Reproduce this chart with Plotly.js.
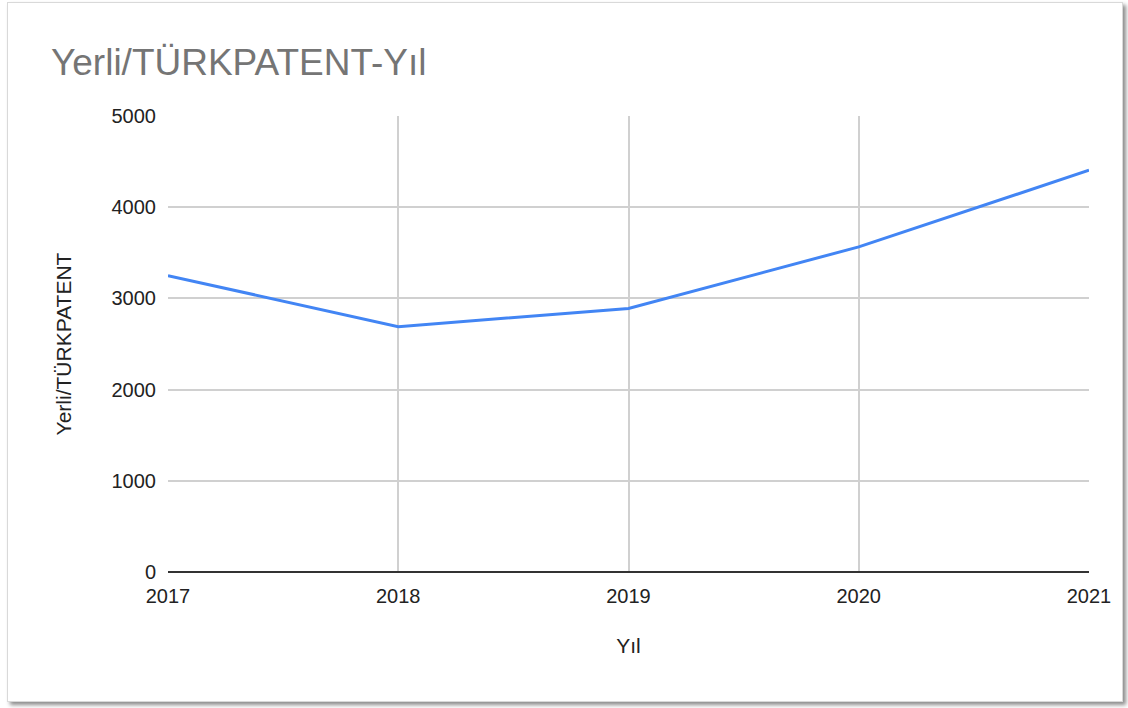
<!DOCTYPE html>
<html>
<head>
<meta charset="utf-8">
<script src="https://cdn.plot.ly/plotly-3.0.1.min.js"></script>
<style>
html,body{margin:0;padding:0;background:#ffffff;width:1128px;height:708px;overflow:hidden;}
#frame{position:absolute;left:7px;top:2px;width:1114px;height:698px;border:1px solid #d9d9d9;box-shadow:3px 3px 4px rgba(0,0,0,0.45);background:#fff;}
#chart{position:absolute;left:0;top:0;width:1128px;height:708px;}
</style>
</head>
<body>
<div id="frame"></div>
<div id="chart"></div>
<script>
const years = [2017, 2018, 2019, 2020, 2021];
const values = [3250, 2690, 2890, 3565, 4405];
const yTicks = [0, 1000, 2000, 3000, 4000, 5000];
const titleText = "Yerli/TÜRKPATENT-Yıl";
const xTitle = "Yıl";
const yTitle = "Yerli/TÜRKPATENT";

const font = "Arial, 'Liberation Sans', sans-serif";

Plotly.newPlot('chart', [{
  x: years,
  y: values,
  type: 'scatter',
  mode: 'lines',
  line: {color: '#4285f4', width: 3},
  hoverinfo: 'x+y'
}], {
  width: 1128,
  height: 708,
  paper_bgcolor: 'rgba(0,0,0,0)',
  plot_bgcolor: 'rgba(0,0,0,0)',
  margin: {l: 168, r: 39, t: 116, b: 136},
  showlegend: false,
  title: {
    text: titleText,
    x: 51/1128, xanchor: 'left', xref: 'container',
    y: 1 - 62/708, yanchor: 'middle', yref: 'container',
    font: {family: font, size: 37, color: '#757575'}
  },
  xaxis: {
    range: [2017, 2021],
    tickvals: years,
    ticktext: years.map(String),
    showgrid: true,
    gridcolor: '#d0d0d0',
    gridwidth: 1.5,
    zeroline: false,
    showline: false,
    ticks: '',
    ticklabelstandoff: 10,
    tickfont: {family: font, size: 20, color: '#222222'},
    title: {text: xTitle, standoff: 32, font: {family: font, size: 21, color: '#222222'}}
  },
  yaxis: {
    range: [0, 5000],
    tickvals: yTicks,
    ticktext: yTicks.map(String),
    showgrid: true,
    gridcolor: '#d0d0d0',
    gridwidth: 1.5,
    zeroline: true,
    zerolinecolor: '#333333',
    zerolinewidth: 2,
    showline: false,
    ticks: '',
    ticklabelstandoff: 11,
    tickfont: {family: font, size: 20, color: '#222222'},
    title: {text: yTitle, standoff: 34, font: {family: font, size: 21, color: '#222222'}}
  }
}, {displayModeBar: false});
</script>
</body>
</html>
